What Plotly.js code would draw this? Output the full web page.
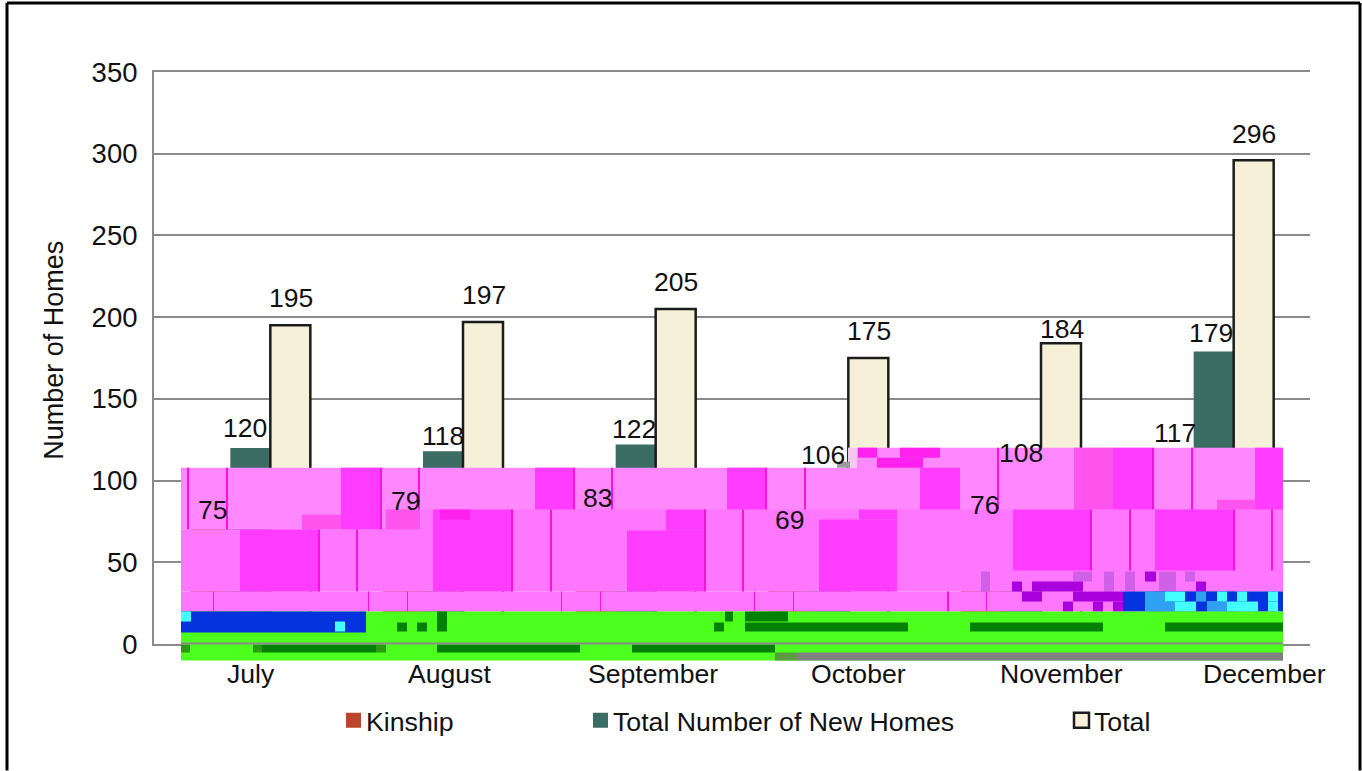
<!DOCTYPE html>
<html>
<head>
<meta charset="utf-8">
<script src="https://cdn.plot.ly/plotly-3.0.1.min.js"></script>
<style>html,body{margin:0;padding:0;background:#fff}#chart{width:1362px;height:771px}</style>
</head>
<body>
<div id="chart"></div>
<script>
// Monthly home counts
const months = ["July", "August", "September", "October", "November", "December"];
const kinship = [75, 79, 83, 69, 76, 117];
const newHomes = [120, 118, 122, 106, 108, 179];
const total = [195, 197, 205, 175, 184, 296];

// Hand placement of the printed labels, in pixels relative to their default spot
const monthLabelShift = [1, 6, 17, 30, 40, 51];
const kinshipNudgeX = [2, 2, 2, 1, 3, 1];
const kinshipNudgeY = [11, 14, 10, 11, 15, 20];
const newHomesNudgeX = [-5, 0, -2, -5, 0, -3];
const newHomesNudgeY = [20, 15, 16, 16, 15, 18];
const totalNudgeX = [1, 1, 0, 1, 1, 0];
const totalNudgeY = [27, 27, 27, 27, 14, 26];

const W = 1362, H = 771, L = 154, T = 72, PW = 1156, PH = 572.5;
const fx = x => (x - L) / PW;
const fy = y => (T + PH - y) / PH;
const FONT = "Liberation Sans, Arial, sans-serif";
const INK = "#111111", RULE = "#8a8a8a";

// Block-noise band that sits over the lower part of the plot: colour, x0, y0, x1, y1 in pixels
const PALE = "#ff88ff", MID = "#ff77ff", DEEP = "#ff3cff", ROSE = "#ff55ee", HOT = "#ff22ee";
const LINEC = "#ff11dd", GREEN = "#4cff1c", DGREEN = "#048004", BLUE = "#0433dd", CYAN = "#44ffff", PURPLE = "#aa00dd";
const HATCHG = "#2a9a10", HATCHP = "#d060e8", HATCHC = "#30a0f0";
const noise = [
  [PALE, 181, 468, 1283, 530], [PALE, 857, 448, 1283, 510],
  [MID, 181, 530, 385, 592], [MID, 385, 510, 1283, 592], [MID, 181, 592, 1283, 612],
  ["#f2c8f0", 848, 448, 857, 468], ["#9a9a9a", 837, 462, 850, 468],
  [HOT, 858, 448, 877, 458], [HOT, 877, 458, 923, 468], [HOT, 900, 448, 940, 458],
  [DEEP, 341, 468, 381, 530], [DEEP, 535, 468, 574, 510], [DEEP, 727, 468, 766, 510], [DEEP, 920, 468, 960, 510],
  [ROSE, 302, 515, 341, 530], [ROSE, 1074, 448, 1113, 510], [DEEP, 1113, 448, 1152, 510],
  [DEEP, 1255, 448, 1283, 510], [ROSE, 1217, 500, 1255, 510],
  [DEEP, 240, 530, 319, 592], [DEEP, 433, 510, 512, 592], [DEEP, 627, 531, 705, 592], [DEEP, 666, 510, 705, 531],
  [DEEP, 819, 520, 897, 592], [DEEP, 859, 510, 897, 520], [DEEP, 1013, 510, 1091, 571], [DEEP, 1155, 510, 1234, 571],
  [ROSE, 386, 510, 420, 530], [HOT, 440, 510, 470, 520],
  [LINEC, 187, 468, 189, 530], [LINEC, 226, 468, 228, 530], [LINEC, 380, 468, 382, 530], [LINEC, 418, 468, 420, 510],
  [LINEC, 573, 468, 575, 510], [LINEC, 611, 468, 613, 510], [LINEC, 765, 468, 767, 510], [LINEC, 804, 468, 806, 510],
  [LINEC, 997, 448, 999, 510], [LINEC, 1152, 448, 1154, 510], [LINEC, 1191, 448, 1193, 510],
  [LINEC, 318, 530, 320, 592], [LINEC, 356, 530, 358, 592], [LINEC, 511, 510, 513, 592], [LINEC, 550, 510, 552, 592],
  [LINEC, 704, 510, 706, 592], [LINEC, 742, 510, 744, 592], [LINEC, 1090, 510, 1092, 571], [LINEC, 1129, 510, 1131, 571],
  [LINEC, 1233, 510, 1235, 571], [LINEC, 1271, 510, 1273, 571],
  [LINEC, 213, 592, 214, 612], [LINEC, 368, 592, 369, 612], [LINEC, 407, 592, 408, 612], [LINEC, 561, 592, 562, 612],
  [LINEC, 600, 592, 601, 612], [LINEC, 754, 592, 755, 612], [LINEC, 793, 592, 794, 612], [LINEC, 947, 592, 949, 612], [LINEC, 986, 592, 987, 612],
  [HATCHP, 981, 572, 990, 592], [HATCHP, 1073, 572, 1092, 582], [HATCHP, 1104, 572, 1114, 592], [HATCHP, 1125, 572, 1135, 592],
  [HATCHP, 1159, 572, 1176, 592], [HATCHP, 1185, 572, 1195, 582],
  [PURPLE, 1012, 582, 1022, 592], [PURPLE, 1032, 582, 1083, 592], [PURPLE, 1022, 592, 1042, 602], [PURPLE, 1073, 592, 1123, 602],
  [PURPLE, 1063, 602, 1073, 612], [PURPLE, 1093, 602, 1103, 612], [PURPLE, 1113, 602, 1123, 612],
  [PURPLE, 1145, 572, 1156, 582], [PURPLE, 1196, 582, 1206, 592],
  [BLUE, 1123, 592, 1283, 612],
  [CYAN, 1165, 592, 1185, 602], [CYAN, 1217, 592, 1227, 602], [CYAN, 1237, 592, 1247, 602], [CYAN, 1268, 592, 1278, 602],
  [CYAN, 1165, 602, 1196, 612], [CYAN, 1207, 602, 1258, 612], [CYAN, 1268, 602, 1278, 612],
  [HATCHC, 1145, 592, 1165, 612], [HATCHC, 1165, 602, 1175, 612], [HATCHC, 1196, 592, 1206, 602], [HATCHC, 1207, 602, 1227, 612],
  [GREEN, 181, 612, 1283, 661],
  [BLUE, 181, 612, 366, 633], [CYAN, 181, 612, 191, 622], [CYAN, 335, 622, 345, 632],
  [DGREEN, 397, 623, 407, 632], [DGREEN, 417, 623, 427, 632], [DGREEN, 437, 612, 447, 632],
  [DGREEN, 714, 623, 724, 632], [DGREEN, 725, 612, 733, 622], [DGREEN, 745, 612, 788, 622], [DGREEN, 745, 623, 908, 632],
  [DGREEN, 970, 623, 1103, 632], [DGREEN, 1165, 623, 1283, 632],
  [DGREEN, 262, 645, 376, 653], [DGREEN, 437, 645, 580, 653], [DGREEN, 632, 645, 775, 653],
  [HATCHG, 181, 645, 190, 653], [HATCHG, 253, 645, 262, 653], [HATCHG, 376, 645, 386, 653],
  ["#5a9a40", 775, 653, 797, 661], ["#808080", 797, 653, 1283, 661],
  [RULE, 181, 643, 1283, 645]
];

const shapes = noise.map(([c, x0, y0, x1, y1]) => ({
  type: "rect", xref: "paper", yref: "paper", layer: "above",
  x0: fx(x0), x1: fx(x1), y0: fy(y1), y1: fy(y0),
  fillcolor: c, line: { width: 0 }
}));

// Black frame around the figure, open along the bottom edge
[[7, 3, 7, H], [7, 3, 1360, 3], [1360, 3, 1360, H]].forEach(([x0, y0, x1, y1]) => shapes.push({
  type: "line", xref: "paper", yref: "paper", layer: "above",
  x0: fx(x0), x1: fx(x1), y0: fy(y0), y1: fy(y1),
  line: { color: "#000", width: 3 }
}));

// Value labels are annotations so they stay on top of everything else
const annotations = [];
const BAR_OFFSET = 40 / (PW / months.length);
function addValues(values, pos, dx, dy) {
  values.forEach((v, i) => annotations.push({
    x: i + pos * BAR_OFFSET, y: v, xref: "x", yref: "y",
    text: String(v), showarrow: false, yanchor: "middle", xanchor: "center",
    xshift: dx[i], yshift: dy[i], font: { family: FONT, size: 26.5, color: INK }
  }));
}
addValues(kinship, -1, kinshipNudgeX, kinshipNudgeY);
addValues(newHomes, 0, newHomesNudgeX, newHomesNudgeY);
addValues(total, 1, totalNudgeX, totalNudgeY);

months.forEach((m, i) => annotations.push({
  x: i, y: fy(675), xref: "x", yref: "paper",
  text: m, showarrow: false, yanchor: "middle", xanchor: "center",
  xshift: monthLabelShift[i], font: { family: FONT, size: 26.6, color: INK }
}));

annotations.push({
  x: fx(54), y: fy(351), xref: "paper", yref: "paper", textangle: -90,
  text: "Number of Homes", showarrow: false, xanchor: "center", yanchor: "middle",
  font: { family: FONT, size: 27, color: INK }
});

const traces = [
  { type: "bar", name: "Kinship", x: months, y: kinship, legend: "legend",
    marker: { color: "#b9462a" } },
  { type: "bar", name: "Total Number of New Homes", x: months, y: newHomes, legend: "legend2",
    marker: { color: "#3b6d64" } },
  { type: "bar", name: "Total", x: months, y: total, legend: "legend3",
    marker: { color: "#f7f0d8", line: { color: "#1c1c1c", width: 2.5 } } }
];

const legendAt = px => ({
  x: fx(px), y: fy(721), xanchor: "left", yanchor: "middle", orientation: "h",
  bgcolor: "rgba(0,0,0,0)", itemclick: false, itemdoubleclick: false,
  font: { family: FONT, size: 26.7, color: INK }
});

const layout = {
  width: W, height: H,
  margin: { l: L, r: W - L - PW, t: T, b: H - T - PH, pad: 0 },
  paper_bgcolor: "#fff", plot_bgcolor: "#fff",
  barmode: "group", bargap: 1 - 120 / (PW / months.length), bargroupgap: 0,
  showlegend: true,
  legend: legendAt(326), legend2: legendAt(573), legend3: legendAt(1054),
  xaxis: { type: "category", range: [-0.5, 5.5], showticklabels: false, ticks: "", showgrid: false, zeroline: false,
    showline: true, mirror: true, linecolor: RULE, linewidth: 2, fixedrange: true },
  yaxis: { range: [0, 350], tickvals: [0, 50, 100, 150, 200, 250, 300, 350], ticks: "",
    ticklabelstandoff: 9, tickfont: { family: FONT, size: 27.5, color: INK },
    showgrid: true, gridcolor: RULE, gridwidth: 2, zeroline: false,
    showline: true, linecolor: RULE, linewidth: 2, fixedrange: true },
  shapes, annotations
};

Plotly.newPlot("chart", traces, layout, { displayModeBar: false }).then(gd => {
  // Larger legend keys, set close to their text
  gd.querySelectorAll(".legendpoints path").forEach(p => {
    p.setAttribute("d", "M7.5,7.5H-7.5V-7.5H7.5Z");
    p.setAttribute("transform", "translate(27.5,0)");
  });
});
</script>
</body>
</html>
